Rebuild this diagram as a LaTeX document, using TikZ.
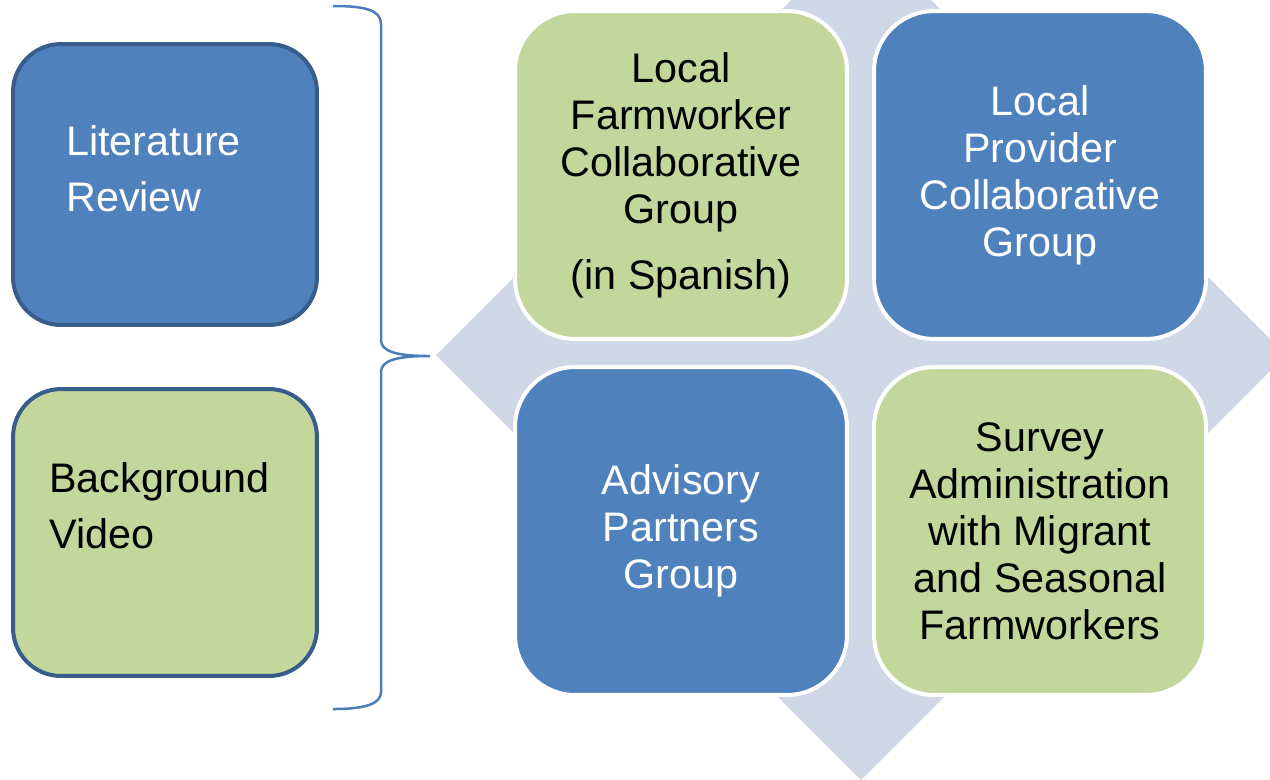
\documentclass[tikz,border=0pt]{standalone}
\usepackage{fontspec}
\setmainfont{Liberation Sans}
\definecolor{bleu}{HTML}{4F81BD}
\definecolor{vert}{HTML}{C3D69B}
\definecolor{bordbleu}{HTML}{385D8A}
\definecolor{losange}{HTML}{D0D8E8}
\definecolor{accolade}{HTML}{4A7EBB}

\begin{document}
\begin{tikzpicture}[x=0.02cm, y=-0.02cm]
\tikzset{tuile/.style={draw=white, line width=0.08cm, rounded corners=1.2cm, minimum width=6.64cm, minimum height=6.56cm, align=center, font=\fontsize{23.5}{26.7}\selectfont}}
\tikzset{cote/.style={draw=bordbleu, line width=0.08cm, rounded corners=0.96cm, minimum width=6.08cm}}
\tikzset{etiq/.style={anchor=north west, inner sep=0pt, align=left, font=\fontsize{23.5}{32}\selectfont}}
\clip (0, 0) rectangle (1270, 779);
\fill[losange] (861, -70) -- (1286, 355) -- (861, 780) -- (436, 355) -- cycle;
\node[tuile, fill=vert] (M1) at (681, 175) {Local\\Farmworker\\Collaborative\\Group\\[0.38cm](in Spanish)};
\node[tuile, fill=bleu, text=white] (M2) at (1040, 175) {Local\\Provider\\Collaborative\\Group};
\node[tuile, fill=bleu, text=white] (M3) at (681, 531) {Advisory\\Partners\\Group};
\node[tuile, fill=vert] (M4) at (1040, 531) {Survey\\Administration\\with Migrant\\and Seasonal\\Farmworkers};
\node[cote, fill=bleu, minimum height=5.62cm] (L1) at (165, 184.5) {};
\node[cote, fill=vert, minimum height=5.74cm] (L2) at (165, 532.5) {};
\node[etiq, text=white] (T1) at (66, 125) {Literature\\Review};
\node[etiq] (T2) at (49, 462) {Background\\Video};
\draw[accolade, line width=0.05cm] (333, 6) .. controls (365, 6) and (381, 10) .. (381, 24) -- (381, 340) .. controls (381, 352) and (398, 356) .. (430, 356) .. controls (398, 356) and (381, 360) .. (381, 372) -- (381, 692) .. controls (381, 704) and (365, 709) .. (333, 709);
\end{tikzpicture}
\end{document}
